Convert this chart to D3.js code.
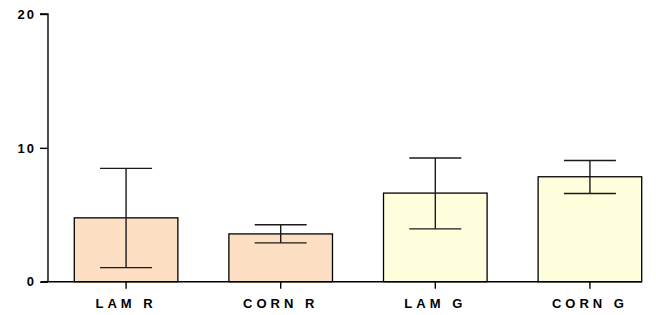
<!DOCTYPE html>
<meta charset="utf-8">
<html>
<head>
<title>bars</title>
<style>
body { margin: 0; background: #fff; }
.tick text, .xlab { font-family: Arial, "Liberation Sans", sans-serif; font-weight: bold; }
</style>
</head>
<body>
<svg width="656" height="315"></svg>
<script src="https://d3js.org/d3.v7.min.js"></script>
<script>

var groups = ["LAM R", "CORN R", "LAM G", "CORN G"];
var means  = [4.77, 3.57, 6.62, 7.84];
var errLow = [1.05, 2.9, 3.95, 6.59];
var errHigh = [8.47, 4.25, 9.24, 9.06];
var fills  = ["#fddfc3", "#fddfc3", "#ffffde", "#ffffde"];
var yTicks = [0, 10, 20];

var svg = d3.select("svg");

var y = d3.scaleLinear()
    .domain([0, 20])
    .range([281.7, 14]);

var x = d3.scaleBand()
    .domain(groups)
    .range([48, 668])
    .paddingInner(0.33)
    .paddingOuter(0.17);

var data = groups.map(function(g, i) {
  return {name: g, mean: means[i], lo: errLow[i], hi: errHigh[i], fill: fills[i]};
});

// bars
svg.append("g").selectAll("rect")
    .data(data)
  .enter().append("rect")
    .attr("x", function(d) { return x(d.name); })
    .attr("y", function(d) { return y(d.mean); })
    .attr("width", x.bandwidth())
    .attr("height", function(d) { return y(0) - y(d.mean); })
    .attr("fill", function(d) { return d.fill; })
    .attr("stroke", "#000")
    .attr("stroke-width", 1.3);

// error bars
var capHalf = 26;
var eb = svg.append("g").attr("stroke", "#1a1a1a").attr("stroke-width", 1.4);
data.forEach(function(d) {
  var cx = x(d.name) + x.bandwidth() / 2;
  eb.append("line").attr("x1", cx).attr("x2", cx).attr("y1", y(d.hi)).attr("y2", y(d.lo));
  eb.append("line").attr("x1", cx - capHalf).attr("x2", cx + capHalf).attr("y1", y(d.hi)).attr("y2", y(d.hi));
  eb.append("line").attr("x1", cx - capHalf).attr("x2", cx + capHalf).attr("y1", y(d.lo)).attr("y2", y(d.lo));
});

// y axis
var yAxis = svg.append("g")
    .attr("transform", "translate(48,0)")
    .call(d3.axisLeft(y).tickValues(yTicks).tickSize(8).tickPadding(4));
yAxis.select(".domain").attr("d", "M-8," + y(20) + "H0V" + y(0)).attr("stroke-width", 1.4);
yAxis.selectAll(".tick line").attr("stroke-width", 1.4);
yAxis.selectAll(".tick text")
    .attr("font-size", 13)
    .attr("letter-spacing", 2)
    .attr("fill", "#000");

// x axis
var xAxis = svg.append("g")
    .attr("transform", "translate(0," + y(0) + ")")
    .call(d3.axisBottom(x).tickSize(7).tickPadding(10));
xAxis.select(".domain").attr("d", "M41,0H642").attr("stroke-width", 1.4);
xAxis.selectAll(".tick line").attr("stroke-width", 1.4);
xAxis.selectAll(".tick text")
    .attr("font-size", 13)
    .attr("letter-spacing", 4)
    .attr("fill", "#000");

</script>
</body>
</html>
